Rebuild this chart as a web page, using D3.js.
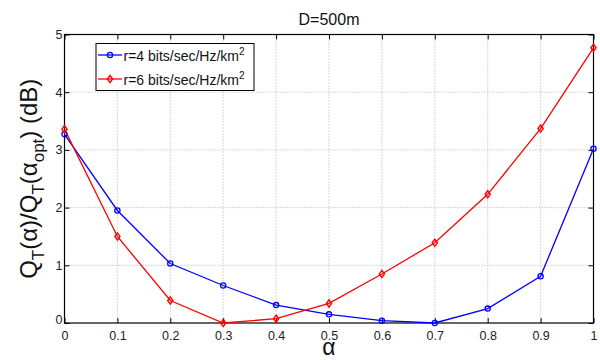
<!DOCTYPE html>
<html>
<head>
<meta charset="utf-8">
<script src="https://cdn.jsdelivr.net/npm/d3@7"></script>
<style>
  body { margin: 0; background: #fff; }
  svg { font-family: "Liberation Sans", Arial, sans-serif; }
</style>
</head>
<body>
<div id="chart"></div>
<script>
// data
var alphas = [0, 0.1, 0.2, 0.3, 0.4, 0.5, 0.6, 0.7, 0.8, 0.9, 1];
var r4Values = [3.27, 1.95, 1.03, 0.65, 0.31, 0.15, 0.04, 0.0, 0.25, 0.81, 3.02];
var r6Values = [3.36, 1.50, 0.39, 0.0, 0.075, 0.34, 0.85, 1.39, 2.23, 3.37, 4.77];
var xTicks = [0, 0.1, 0.2, 0.3, 0.4, 0.5, 0.6, 0.7, 0.8, 0.9, 1];
var yTicks = [0, 1, 2, 3, 4, 5];
var seriesNames = ["r=4 bits/sec/Hz/km", "r=6 bits/sec/Hz/km"];
var seriesColors = ["#0000ff", "#ff0000"];

var width = 600, height = 360;
var margin = {top: 34.5, right: 6.5, bottom: 37, left: 64.5};
var w = width - margin.left - margin.right;
var h = height - margin.top - margin.bottom;

var svg = d3.select("#chart").append("svg")
    .attr("width", width)
    .attr("height", height);

var g = svg.append("g")
    .attr("transform", "translate(" + margin.left + "," + margin.top + ")");

var x = d3.scaleLinear().domain([0, 1]).range([0, w]);
var y = d3.scaleLinear().domain([0, 5]).range([h, 0]);

// grid
g.append("g").selectAll("line.vx")
    .data(xTicks.slice(1, -1))
    .enter().append("line")
    .attr("x1", function(d) { return x(d); })
    .attr("x2", function(d) { return x(d); })
    .attr("y1", 0).attr("y2", h)
    .attr("stroke", "#b0b0b0").attr("stroke-width", 1)
    .attr("stroke-dasharray", "1,2");

g.append("g").selectAll("line.hy")
    .data(yTicks.slice(1, -1))
    .enter().append("line")
    .attr("x1", 0).attr("x2", w)
    .attr("y1", function(d) { return y(d); })
    .attr("y2", function(d) { return y(d); })
    .attr("stroke", "#b0b0b0").attr("stroke-width", 1)
    .attr("stroke-dasharray", "1,2");

// axes with inner ticks
var xAxis = g.append("g")
    .attr("transform", "translate(0," + h + ")")
    .call(d3.axisBottom(x).tickValues(xTicks).tickSizeInner(-5).tickSizeOuter(0)
        .tickFormat(function(d) { return d === 0 ? "0" : d === 1 ? "1" : d3.format(".1f")(d); }));
xAxis.selectAll("text").attr("dy", "0.71em").attr("y", 8)
    .style("font-size", "12.5px").attr("fill", "#222");

g.append("g")
    .call(d3.axisTop(x).tickValues(xTicks).tickSizeInner(-5).tickSizeOuter(0).tickFormat(""));

var yAxis = g.append("g")
    .call(d3.axisLeft(y).tickValues(yTicks).tickSizeInner(-5).tickSizeOuter(0).tickFormat(d3.format("d")));
yAxis.selectAll("text").attr("x", -2)
    .style("font-size", "12.5px").attr("fill", "#222");
yAxis.selectAll(".tick").filter(function(d) { return d === 0; })
    .select("text").attr("dy", "0.05em");

g.append("g")
    .attr("transform", "translate(" + w + ",0)")
    .call(d3.axisRight(y).tickValues(yTicks).tickSizeInner(-5).tickSizeOuter(0).tickFormat(""));

g.selectAll(".domain").remove();
g.selectAll(".tick line").attr("stroke", "#000");

g.append("rect")
    .attr("x", 0).attr("y", 0).attr("width", w).attr("height", h)
    .attr("fill", "none").attr("stroke", "#000").attr("stroke-width", 1.2);

// lines
var line = d3.line()
    .x(function(d, i) { return x(alphas[i]); })
    .y(function(d) { return y(d); });

var allSeries = [r4Values, r6Values];

allSeries.forEach(function(vals, k) {
    g.append("path")
        .datum(vals)
        .attr("d", line)
        .attr("fill", "none")
        .attr("stroke", seriesColors[k])
        .attr("stroke-width", 1.3);
});

// markers
var diamond = "M0,-3.6L2.6,0L0,3.6L-2.6,0Z";

g.selectAll("circle.m4")
    .data(r4Values)
    .enter().append("circle")
    .attr("cx", function(d, i) { return x(alphas[i]); })
    .attr("cy", function(d) { return y(d); })
    .attr("r", 2.6)
    .attr("fill", "none")
    .attr("stroke", seriesColors[0])
    .attr("stroke-width", 1.3);

g.selectAll("path.m6")
    .data(r6Values)
    .enter().append("path")
    .attr("transform", function(d, i) { return "translate(" + x(alphas[i]) + "," + y(d) + ")"; })
    .attr("d", diamond)
    .attr("fill", "none")
    .attr("stroke", seriesColors[1])
    .attr("stroke-width", 1.4);

// legend
var leg = svg.append("g").attr("transform", "translate(96,43.5)");
leg.append("rect")
    .attr("width", 158).attr("height", 47)
    .attr("fill", "#fff").attr("stroke", "#000").attr("stroke-width", 1);

seriesNames.forEach(function(name, k) {
    var ly = 11.5 + k * 24;
    leg.append("line")
        .attr("x1", 2).attr("x2", 26).attr("y1", ly).attr("y2", ly)
        .attr("stroke", seriesColors[k]).attr("stroke-width", 1.3);
    if (k === 0) {
        leg.append("circle").attr("cx", 14).attr("cy", ly).attr("r", 2.6)
            .attr("fill", "none").attr("stroke", seriesColors[k]).attr("stroke-width", 1.3);
    } else {
        leg.append("path").attr("transform", "translate(14," + ly + ")").attr("d", diamond)
            .attr("fill", "none").attr("stroke", seriesColors[k]).attr("stroke-width", 1.4);
    }
    var t = leg.append("text")
        .attr("x", 27.5).attr("y", ly + 5.5)
        .style("font-size", "14px").attr("fill", "#111");
    t.append("tspan").text(name);
    t.append("tspan").attr("dy", -6).style("font-size", "10px").text("2");
});

// title
svg.append("text")
    .attr("x", margin.left + w / 2).attr("y", 25)
    .attr("text-anchor", "middle")
    .style("font-size", "16px").attr("fill", "#111")
    .text("D=500m");

// x label
svg.append("text")
    .attr("x", margin.left + w / 2).attr("y", 355)
    .attr("text-anchor", "middle")
    .style("font-size", "23px").attr("fill", "#111")
    .text("\u03b1");

// y label
var yl = svg.append("text")
    .attr("transform", "translate(37," + (margin.top + h / 2) + ") rotate(-90)")
    .attr("text-anchor", "middle")
    .style("font-size", "24px").attr("fill", "#111");
yl.append("tspan").text("Q");
yl.append("tspan").attr("dy", 7).style("font-size", "17px").text("T");
yl.append("tspan").attr("dy", -7).text("(\u03b1)/Q");
yl.append("tspan").attr("dy", 7).style("font-size", "17px").text("T");
yl.append("tspan").attr("dy", -7).text("(\u03b1");
yl.append("tspan").attr("dy", 7).style("font-size", "17px").text("opt");
yl.append("tspan").attr("dy", -7).text(")  (dB)");
</script>
</body>
</html>
